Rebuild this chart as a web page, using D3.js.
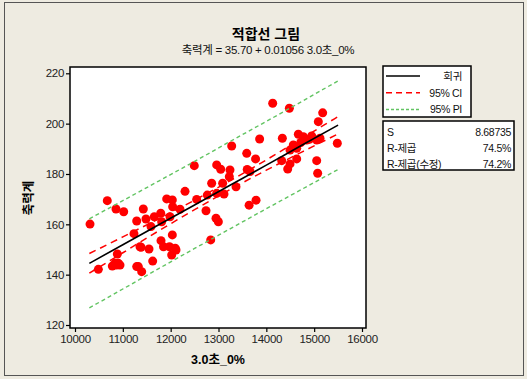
<!DOCTYPE html>
<html><head><meta charset="utf-8">
<script src="https://cdn.jsdelivr.net/npm/d3@7"></script>
<style>
html,body{margin:0;padding:0;background:#EEEBE1;}
svg{display:block;font-family:"Liberation Sans",Arial,"Noto Sans CJK KR",sans-serif;}
</style></head>
<body>
<svg id="c" width="527" height="379"></svg>
<script>
// ---- data ----
const pointsX = [10314,10488,10675,10780,10857,10871,10885,10941,11018,11233,11290,11324,11380,11394,11428,11484,11547,11589,11624,11658,11792,11812,11798,11850,11917,11975,12035,12035,12095,12112,12021,11986,12042,12195,10836,10906,11359,11290,12300,12494,12544,12739,12766,12837,12857,12948,12997,12962,13046,12962,13115,13087,13226,13240,13276,13366,13590,13600,13660,13640,13785,13775,13860,14133,14481,15178,15087,14335,14669,14774,14948,15053,15122,14844,15484,14564,14495,14635,14321,14635,14495,14447,15053,15073,14720,14900];
const pointsY = [160.1,142.1,169.4,143.4,166.1,143.8,148.2,143.8,165.0,156.3,161.3,143.2,150.9,141.2,166.1,162.1,150.2,159.1,145.4,163.0,164.4,161.0,153.5,151.1,170.1,151.1,169.7,155.8,150.5,149.8,147.8,163.0,167.0,166.0,144.5,144.5,151.1,143.2,173.1,183.3,169.9,165.4,171.6,153.8,176.3,162.4,161.0,183.6,181.9,172.3,172.0,176.3,178.9,181.6,191.1,174.9,188.2,181.8,181.0,167.6,169.6,186.0,193.9,208.1,206.1,204.3,200.8,194.2,195.8,194.8,195.1,193.5,194.2,193.5,192.2,191.5,189.5,190.2,185.3,186.0,184.0,182.0,185.3,180.3,192.5,193.8];
const bandX = [10300,11000,11750,12500,13250,14000,14750,15500];
const fitY  = [144.5,151.9,159.8,167.7,175.6,183.5,191.5,199.4];
const ciLo  = [140.6,148.7,157.4,165.8,173.9,181.5,188.8,195.9];
const ciHi  = [148.4,155.0,162.2,169.6,177.4,185.6,194.2,202.8];
const piLo  = [126.8,134.3,142.4,150.4,158.3,166.2,174.0,181.8];
const piHi  = [162.2,169.4,177.2,185.0,193.0,200.9,208.9,217.0];
const xTicks = [10000,11000,12000,13000,14000,15000,16000];
const yTicks = [120,140,160,180,200,220];
const titleText = "적합선 그림";
const subtitleText = "축력계 = 35.70 + 0.01056 3.0초_0%";
const xLabel = "3.0초_0%";
const yLabel = "축력계";
const legendLabels = ["회귀","95% CI","95% PI"];
const statNames = ["S","R-제곱","R-제곱(수정)"];
const statValues = ["8.68735","74.5%","74.2%"];

// ---- drawing ----
const svg = d3.select("#c");
const green = "#62C462", red = "#FF0000";
svg.append("rect").attr("x",4.5).attr("y",2.5).attr("width",519).attr("height",373)
  .attr("fill","#EEEBE1").attr("stroke","#555").attr("stroke-width",1);

const x = d3.scaleLinear().domain([10000,16000]).range([75,362]);
const y = d3.scaleLinear().domain([120,220]).range([325,73.3]);

svg.append("rect").attr("x",70).attr("y",67).attr("width",296).attr("height",261)
  .attr("fill","#fff");

svg.append("g").selectAll("circle").data(pointsX).join("circle")
  .attr("cx",d=>x(d)).attr("cy",(d,i)=>y(pointsY[i])).attr("r",4.5).attr("fill",red);

const line = d3.line().x((d,i)=>x(bandX[i])).y(d=>y(d)).curve(d3.curveMonotoneX);
function drawLine(arr,color,dash,w){
  svg.append("path").attr("d",line(arr)).attr("fill","none").attr("stroke",color)
    .attr("stroke-width",w).attr("stroke-dasharray",dash);
}
drawLine(piLo,green,"4,3",1.4);
drawLine(piHi,green,"4,3",1.4);
drawLine(ciLo,red,"7,5",1.5);
drawLine(ciHi,red,"7,5",1.5);
drawLine(fitY,"#000",null,1.6);

svg.append("rect").attr("x",70).attr("y",67).attr("width",296).attr("height",261)
  .attr("fill","none").attr("stroke","#000").attr("stroke-width",1.5);

const xa = svg.append("g").attr("transform","translate(0,328)")
  .call(d3.axisBottom(x).tickValues(xTicks).tickSize(4).tickPadding(3).tickFormat(d3.format("d")));
const ya = svg.append("g").attr("transform","translate(70,0)")
  .call(d3.axisLeft(y).tickValues(yTicks).tickSize(4).tickPadding(2).tickFormat(d3.format("d")));
[xa,ya].forEach(a=>{
  a.select(".domain").remove();
  a.selectAll("line").attr("stroke","#000").attr("stroke-width",1.2);
  a.selectAll("text").attr("font-size",11.5).attr("fill","#222")
    .attr("font-family","'Liberation Sans',Arial,sans-serif").attr("letter-spacing","-0.3");
});

svg.append("text").attr("x",266).attr("y",39).attr("text-anchor","middle")
  .attr("font-size",14).attr("font-weight","bold").attr("fill","#000").text(titleText);
svg.append("text").attr("x",268).attr("y",54).attr("text-anchor","middle")
  .attr("font-size",11.5).attr("fill","#111").attr("letter-spacing","-0.3").text(subtitleText);
svg.append("text").attr("x",218).attr("y",364).attr("text-anchor","middle")
  .attr("font-size",12.5).attr("font-weight","bold").attr("fill","#000").text(xLabel);
svg.append("text").attr("transform","translate(33,198) rotate(-90)").attr("text-anchor","middle")
  .attr("font-size",12.5).attr("font-weight","bold").attr("fill","#000").text(yLabel);

const lg = svg.append("g");
lg.append("rect").attr("x",383).attr("y",66).attr("width",88).attr("height",51)
  .attr("fill","#fff").attr("stroke","#000").attr("stroke-width",1.5);
const legStyles = [["#000",null],[red,"6,4"],[green,"3,2"]];
legendLabels.forEach((t,i)=>{
  const yy = 76 + i*16.7;
  lg.append("line").attr("x1",386).attr("x2",420).attr("y1",yy).attr("y2",yy)
    .attr("stroke",legStyles[i][0]).attr("stroke-width",1.5).attr("stroke-dasharray",legStyles[i][1]);
  lg.append("text").attr("x",462).attr("y",yy+4).attr("text-anchor","end")
    .attr("font-size",10.5).attr("fill","#111").attr("letter-spacing","-0.3").text(t);
});
const sg = svg.append("g");
sg.append("rect").attr("x",383).attr("y",121).attr("width",131).attr("height",49)
  .attr("fill","#fff").attr("stroke","#000").attr("stroke-width",1.5);
statNames.forEach((t,i)=>{
  const yy = 132 + i*16;
  sg.append("text").attr("x",387).attr("y",yy+4).attr("font-size",10.5).attr("fill","#111")
    .attr("letter-spacing","-0.3").text(t);
  sg.append("text").attr("x",511).attr("y",yy+4).attr("text-anchor","end").attr("font-size",10.5)
    .attr("fill","#111").attr("letter-spacing","-0.3").text(statValues[i]);
});
</script>
</body></html>
